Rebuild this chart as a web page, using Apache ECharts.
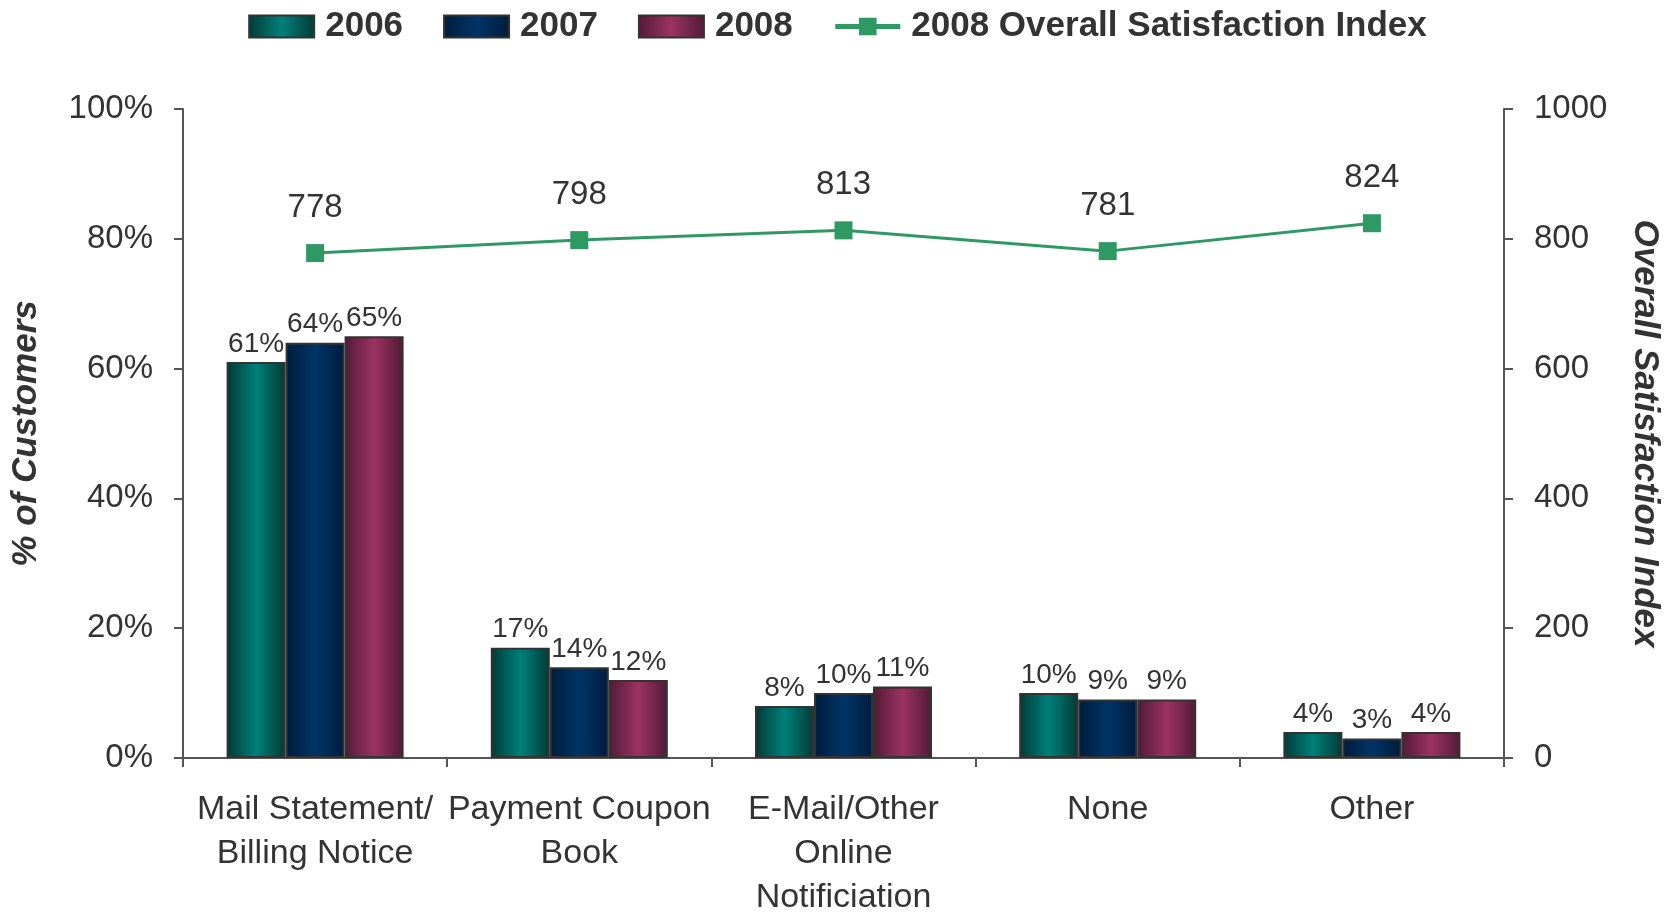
<!DOCTYPE html>
<html>
<head>
<meta charset="utf-8">
<title>Billing Notification Method and Satisfaction</title>
<script src="https://cdn.jsdelivr.net/npm/echarts@6/dist/echarts.min.js"></script>
<style>
  html, body { margin: 0; padding: 0; background: #ffffff; }
  #chart { width: 1675px; height: 916px; }
</style>
</head>
<body>
<div id="chart"></div>
<script>
// Notification methods (x categories)
const categories = [
  'Mail Statement/\nBilling Notice',
  'Payment Coupon\nBook',
  'E-Mail/Other\nOnline\nNotificiation',
  'None',
  'Other'
];

// Share of customers by year (%)
const share2006 = [61, 17, 8, 10, 4];
const share2007 = [64, 14, 10, 9, 3];
const share2008 = [65, 12, 11, 9, 4];

// 2008 overall satisfaction index per method
const satisfaction2008 = [778, 798, 813, 781, 824];

const seriesNames = ['2006', '2007', '2008', '2008 Overall Satisfaction Index'];

const FONT = "'Liberation Sans', Arial, sans-serif";
const TEXT = '#333333';
const AXIS = '#555555';
const GREEN = '#2f9964';

// Cylinder-like shading: dark edges, lighter centre
function shade(edge, mid) {
  return new echarts.graphic.LinearGradient(0, 0, 1, 0, [
    { offset: 0, color: edge },
    { offset: 0.5, color: mid },
    { offset: 1, color: edge }
  ]);
}

const barStyles = [
  shade('#003a35', '#00807a'),
  shade('#001c3c', '#003468'),
  shade('#521a36', '#9b3363')
];

function barSeries(name, data, fill) {
  return {
    name: name,
    type: 'bar',
    yAxisIndex: 0,
    data: data,
    barGap: '0%',
    barCategoryGap: '33%',
    itemStyle: { color: fill, borderColor: '#333333', borderWidth: 2 },
    label: {
      show: true,
      position: 'top',
      distance: 4,
      formatter: '{c}%',
      fontFamily: FONT,
      fontSize: 28,
      color: TEXT
    },
    emphasis: { disabled: true }
  };
}

const legendText = { fontFamily: FONT, fontSize: 35, fontWeight: 'bold', color: TEXT, padding: [0, 0, 0, 6] };

const chart = echarts.init(document.getElementById('chart'), null, { renderer: 'canvas' });

chart.setOption({
  animation: false,
  backgroundColor: '#ffffff',
  textStyle: { fontFamily: FONT, color: TEXT },
  legend: {
    top: 4,
    left: 'center',
    itemWidth: 65,
    itemHeight: 22,
    itemGap: 40,
    textStyle: legendText,
    data: [
      { name: seriesNames[0], icon: 'rect' },
      { name: seriesNames[1], icon: 'rect' },
      { name: seriesNames[2], icon: 'rect' },
      { name: seriesNames[3], lineStyle: { width: 5 } }
    ]
  },
  grid: {
    left: 183,
    right: 171,
    top: 109,
    bottom: 158,
    outerBoundsMode: 'none',
    containLabel: false
  },
  xAxis: {
    type: 'category',
    data: categories,
    boundaryGap: true,
    axisLine: { lineStyle: { color: AXIS, width: 2 } },
    axisTick: { show: true, alignWithLabel: false, length: 9, lineStyle: { color: AXIS, width: 2 } },
    axisLabel: {
      interval: 0,
      margin: 30,
      fontFamily: FONT,
      fontSize: 34,
      lineHeight: 44,
      color: TEXT
    }
  },
  yAxis: [
    {
      type: 'value',
      min: 0,
      max: 100,
      interval: 20,
      position: 'left',
      name: '% of Customers',
      nameLocation: 'middle',
      nameGap: 139,
      nameRotate: 90,
      nameTextStyle: { fontFamily: FONT, fontSize: 35, fontWeight: 'bold', fontStyle: 'italic', color: TEXT },
      splitLine: { show: false },
      axisLine: { show: true, lineStyle: { color: AXIS, width: 2 } },
      axisTick: { show: true, length: 9, lineStyle: { color: AXIS, width: 2 } },
      axisLabel: { formatter: '{value}%', margin: 30, fontFamily: FONT, fontSize: 33, color: TEXT }
    },
    {
      type: 'value',
      min: 0,
      max: 1000,
      interval: 200,
      position: 'right',
      name: 'Overall Satisfaction Index',
      nameLocation: 'middle',
      nameGap: 123,
      nameRotate: -90,
      nameTextStyle: { fontFamily: FONT, fontSize: 35, fontWeight: 'bold', fontStyle: 'italic', color: TEXT },
      splitLine: { show: false },
      axisLine: { show: true, lineStyle: { color: AXIS, width: 2 } },
      axisTick: { show: true, length: 9, lineStyle: { color: AXIS, width: 2 } },
      axisLabel: { formatter: (v) => String(v), margin: 30, fontFamily: FONT, fontSize: 33, color: TEXT }
    }
  ],
  series: [
    barSeries(seriesNames[0], share2006, barStyles[0]),
    barSeries(seriesNames[1], share2007, barStyles[1]),
    barSeries(seriesNames[2], share2008, barStyles[2]),
    {
      name: seriesNames[3],
      type: 'line',
      yAxisIndex: 1,
      data: satisfaction2008,
      symbol: 'rect',
      symbolSize: 18,
      lineStyle: { color: GREEN, width: 3 },
      itemStyle: { color: GREEN },
      label: {
        show: true,
        position: 'top',
        distance: 20,
        fontFamily: FONT,
        fontSize: 33,
        color: TEXT
      },
      emphasis: { disabled: true },
      z: 5
    }
  ]
});
</script>
</body>
</html>
